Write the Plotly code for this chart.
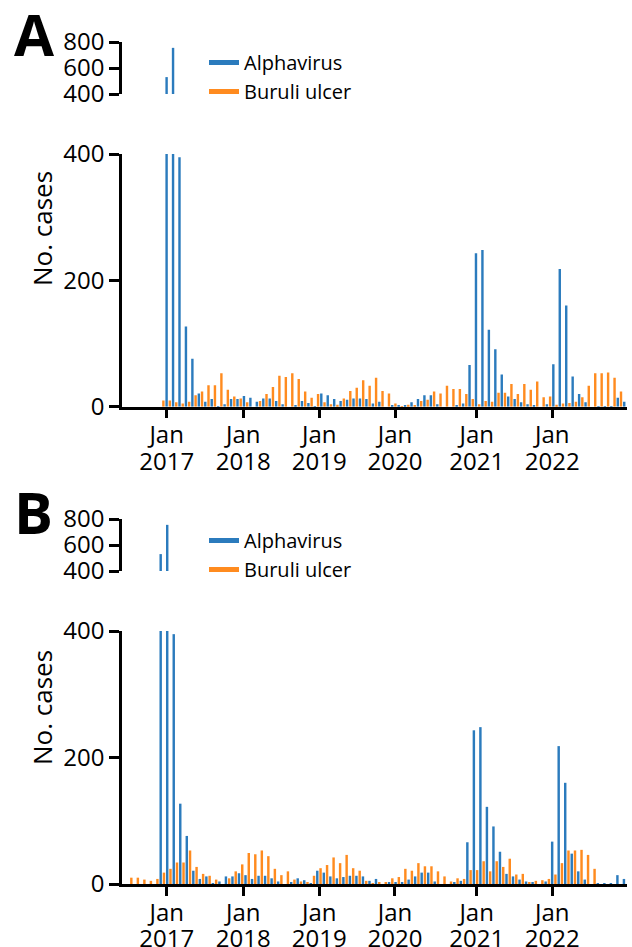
import plotly.graph_objects as go

# ---------------- data (monthly case counts, Jan 2017 - Dec 2022) ----------------
months = [f"{y}-{m:02d}" for y in range(2017, 2023) for m in range(1, 13)]

alphavirus = [530, 755, 395, 127, 76, 21, 8, 12, 1, 4, 12, 12,
              17, 14, 8, 13, 13, 9, 4, 0, 2, 9, 6, 1,
              21, 18, 12, 9, 11, 13, 13, 12, 5, 8, 0, 2,
              2, 2, 7, 12, 18, 18, 4, 0, 0, 2, 5, 66,
              243, 248, 122, 91, 51, 16, 12, 7, 4, 2, 0, 4,
              67, 218, 160, 48, 20, 7, 0, 1, 1, 1, 14, 8]

buruli = [10, 10, 7, 5, 8, 18, 24, 34, 34, 53, 27, 16,
          13, 7, 0, 9, 20, 31, 49, 47, 53, 44, 24, 14,
          20, 7, 4, 3, 13, 25, 30, 42, 33, 46, 25, 21,
          5, 1, 3, 2, 9, 11, 24, 21, 33, 28, 28, 20,
          12, 4, 9, 8, 22, 22, 36, 20, 36, 27, 40, 15,
          16, 3, 5, 6, 8, 15, 33, 53, 53, 54, 46, 24]

buruli_lag = 4  # panel B: Buruli ulcer notifications shifted 4 months earlier

tick_month = ["Jan"] * 6
tick_year = ["2017", "2018", "2019", "2020", "2021", "2022"]
# tick positions (month index from Jan 2017) as drawn in each panel
ticks_a = [0.26, 12.15, 23.94, 35.69, 48.36, 60.09]
ticks_b = [1.17, 12.91, 24.56, 36.16, 48.68, 60.27]

series_names = ["Alphavirus", "Buruli ulcer"]

# ---------------- styling ----------------
BLUE = "#2b7bbd"
ORANGE = "#ff8b1f"
FONT = "Open Sans"
W, H = 632, 947

def py(p):
    return 1 - p / H

idx = list(range(len(months)))

fig = go.Figure()

panels = [
    dict(xa="x", ybot="y", ytop="y2", bx=idx, leg="legend", xyear="x3"),
    dict(xa="x2", ybot="y3", ytop="y4", bx=[i - buruli_lag for i in idx], leg="legend2", xyear="x4"),
]

for p in panels:
    for ya in (p["ybot"], p["ytop"]):
        fig.add_bar(x=p["bx"], y=buruli, marker_color=ORANGE, marker_line_width=0,
                    xaxis=p["xa"], yaxis=ya, showlegend=False, name=series_names[1])
        fig.add_bar(x=idx, y=alphavirus, marker_color=BLUE, marker_line_width=0,
                    xaxis=p["xa"], yaxis=ya, showlegend=False, name=series_names[0])
    # legend entries
    for nm, col in zip(series_names, [BLUE, ORANGE]):
        fig.add_scatter(x=[None], y=[None], mode="lines", line=dict(color=col, width=5),
                        name=nm, xaxis=p["xa"], yaxis=p["ytop"], legend=p["leg"])
    # empty trace so the year-label axis is drawn
    fig.add_scatter(x=[None], y=[None], mode="lines", xaxis=p["xyear"], yaxis=p["ybot"],
                    showlegend=False, hoverinfo="skip")

xdom = [122 / W, 627 / W]
tf = dict(family=FONT, size=24, color="black")
axis_common = dict(showline=True, linecolor="black", linewidth=2.5, showgrid=False,
                   zeroline=False, ticks="outside", tickcolor="black", tickwidth=2.5,
                   automargin=False, tickfont=tf, fixedrange=True)
year_axis = dict(showline=False, showgrid=False, zeroline=False, ticks="",
                 automargin=False, tickfont=tf, fixedrange=True, ticklabelstandoff=38)

fig.update_layout(
    width=W, height=H, margin=dict(l=0, r=0, t=0, b=0, autoexpand=False),
    paper_bgcolor="white", plot_bgcolor="white",
    barmode="group", bargap=0.0, bargroupgap=0.25,
    font=dict(family=FONT, color="black"),
    xaxis=dict(**axis_common, domain=xdom, range=[-6.67, 71.68], anchor="y",
               tickvals=ticks_a, ticktext=tick_month, ticklen=9, ticklabelstandoff=-4),
    xaxis3=dict(**year_axis, domain=xdom, range=[-6.67, 71.68], anchor="y",
                overlaying="x", side="bottom", tickvals=ticks_a, ticktext=tick_year),
    yaxis=dict(**axis_common, domain=[py(406.7), py(154)], range=[0, 400], anchor="x",
               tickvals=[0, 200, 400], ticklen=10),
    yaxis2=dict(**axis_common, domain=[py(94), py(42)], range=[400, 800], anchor="x",
                tickvals=[400, 600, 800], ticklen=10),
    xaxis2=dict(**axis_common, domain=xdom, range=[-5.68, 71.72], anchor="y3",
                tickvals=ticks_b, ticktext=tick_month, ticklen=9, ticklabelstandoff=-4),
    xaxis4=dict(**year_axis, domain=xdom, range=[-5.68, 71.72], anchor="y3",
                overlaying="x2", side="bottom", tickvals=ticks_b, ticktext=tick_year),
    yaxis3=dict(**axis_common, domain=[py(884), py(631)], range=[0, 400], anchor="x2",
                tickvals=[0, 200, 400], ticklen=10),
    yaxis4=dict(**axis_common, domain=[py(571), py(519)], range=[400, 800], anchor="x2",
                tickvals=[400, 600, 800], ticklen=10),
    legend=dict(x=204 / W, y=py(43), xanchor="left", yanchor="top",
                font=dict(family=FONT, size=20, color="black"),
                bgcolor="rgba(0,0,0,0)", tracegroupgap=0, itemwidth=30),
    legend2=dict(x=204 / W, y=py(521), xanchor="left", yanchor="top",
                 font=dict(family=FONT, size=20, color="black"),
                 bgcolor="rgba(0,0,0,0)", tracegroupgap=0, itemwidth=30),
)

for label, yc in (("A", 33), ("B", 512)):
    fig.add_annotation(text=f"<b>{label}</b>", x=12 / W, y=py(yc), xref="paper", yref="paper",
                       xanchor="left", yanchor="middle", showarrow=False,
                       font=dict(family=FONT, size=58, color="black", weight=800))
for yc in (228, 707):
    fig.add_annotation(text="No. cases", x=42 / W, y=py(yc), xref="paper", yref="paper",
                       xanchor="center", yanchor="middle", textangle=-90, showarrow=False,
                       font=dict(family=FONT, size=26, color="black"))

fig.write_html("out.html", config={"displayModeBar": False},
               post_script="document.body.style.margin='0px';")
